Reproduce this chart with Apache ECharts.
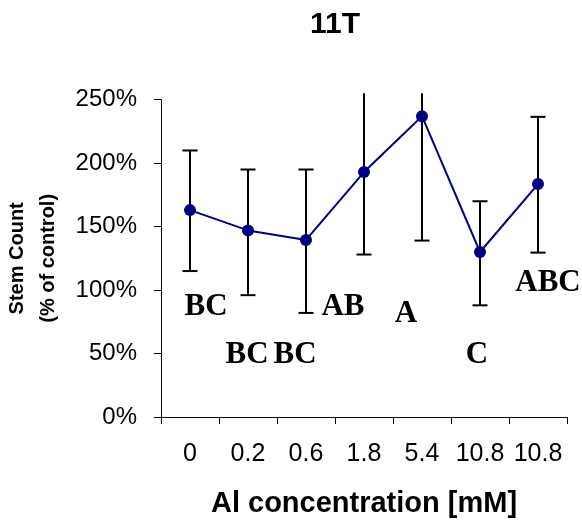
<!DOCTYPE html>
<html><head><meta charset="utf-8">
<script src="https://cdn.jsdelivr.net/npm/echarts@6/dist/echarts.min.js"></script>
<style>html,body{margin:0;padding:0;background:#fff}#c{width:582px;height:529px}</style>
</head><body><div id="c"></div>
<script>
// ---- data ----
const categories = ['0', '0.2', '0.6', '1.8', '5.4', '10.8', '10.8'];
const means = [163, 147, 139.5, 193, 237, 130, 183.5];
const upper = [210, 195, 195, 258, 335, 170, 236.5];
const lower = [115, 96, 82, 128, 139, 88, 129.5];
const letters = ['BC', 'BC', 'BC', 'AB', 'A', 'C', 'ABC'];
const letterY = [87, 49, 49, 87, 81, 49, 105.5];
const yMin = 0, yMax = 250, yStep = 50;

// ---- style (not data) ----
const letterDx = [16, -1, -11, -21, -16, -3, 10];
const SANS = 'Liberation Sans';
const SERIF = 'Liberation Serif';

const chart = echarts.init(document.getElementById('c'), null, {renderer: 'canvas'});

const errData = categories.map((c, i) => [i, upper[i], lower[i]]);
const letterData = categories.map((c, i) => ({
  value: [i, letterY[i]],
  label: {offset: [letterDx[i], 0]}
}));

chart.setOption({
  animation: false,
  backgroundColor: '#fff',
  title: {
    text: '11T', left: 330, top: 5, textAlign: 'center',
    textStyle: {fontFamily: SANS, fontWeight: 'bold', fontSize: 30, color: '#000'}
  },
  grid: {left: 161, right: 15, top: 99.7, bottom: 112, containLabel: false, outerBoundsMode: 'none'},
  xAxis: {
    type: 'category', data: categories, boundaryGap: true,
    axisLine: {show: true, lineStyle: {color: '#000', width: 1}},
    axisTick: {show: true, length: 7, lineStyle: {color: '#000'}},
    axisLabel: {interval: 0, fontFamily: SANS, fontSize: 25, color: '#000', margin: 25},
    splitLine: {show: false},
    name: 'Al concentration [mM]', nameLocation: 'middle', nameGap: 72,
    nameTextStyle: {fontFamily: SANS, fontWeight: 'bold', fontSize: 29, color: '#000'}
  },
  yAxis: {
    type: 'value', min: yMin, max: yMax, interval: yStep,
    axisLine: {show: true, lineStyle: {color: '#000', width: 1}},
    axisTick: {show: true, length: 7, lineStyle: {color: '#000'}},
    axisLabel: {formatter: '{value}%', fontFamily: SANS, fontSize: 24, color: '#000', margin: 24},
    splitLine: {show: false},
    name: 'Stem Count\n(% of control)', nameLocation: 'middle', nameRotate: 90, nameGap: 96,
    nameTextStyle: {fontFamily: SANS, fontWeight: 'bold', fontSize: 20, lineHeight: 31.5, color: '#000', align: 'center'}
  },
  series: [
    {
      type: 'custom', z: 1, clip: false,
      data: errData,
      renderItem: function (params, api) {
        const i = api.value(0);
        const x = api.coord([i, 0])[0];
        const top = api.coord([i, api.value(1)])[1];
        const bot = api.coord([i, api.value(2)])[1];
        const limit = params.coordSys.y - 6.5;
        const clipped = top < limit;
        const t = clipped ? limit : top;
        const w = 7.5;
        const st = {stroke: '#000', lineWidth: 2};
        const ch = [
          {type: 'line', shape: {x1: x, y1: t, x2: x, y2: bot}, style: st},
          {type: 'line', shape: {x1: x - w, y1: bot, x2: x + w, y2: bot}, style: st}
        ];
        if (!clipped) ch.push({type: 'line', shape: {x1: x - w, y1: t, x2: x + w, y2: t}, style: st});
        return {type: 'group', children: ch};
      }
    },
    {
      type: 'line', z: 3, data: means,
      symbol: 'circle', symbolSize: 12,
      lineStyle: {color: '#000080', width: 2},
      itemStyle: {color: '#000080'}
    },
    {
      type: 'scatter', z: 4, data: letterData, symbolSize: 0,
      itemStyle: {opacity: 1, color: '#000'},
      label: {
        show: true, position: 'inside',
        formatter: function (p) { return letters[p.dataIndex]; },
        fontFamily: SERIF, fontWeight: 'bold', fontSize: 31, color: '#000', opacity: 1
      }
    }
  ]
});
</script>
</body></html>
